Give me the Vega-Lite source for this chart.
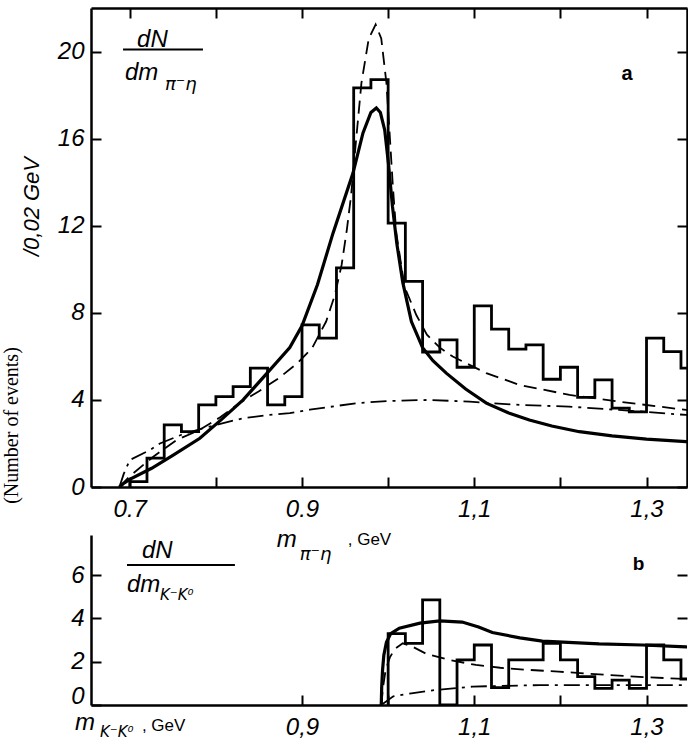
{
  "$schema": "https://vega.github.io/schema/vega-lite/v6.json",
  "background": "white",
  "padding": {"left": 0, "top": 7, "right": 0, "bottom": 0},
  "autosize": {"type": "pad"},
  "bounds": "flush",
  "spacing": 48,
  "config": {
    "view": {"stroke": null},
    "axis": {
      "grid": false,
      "domainColor": "black",
      "domainWidth": 2.5,
      "tickColor": "black",
      "tickWidth": 2,
      "tickSize": -10,
      "labelColor": "black",
      "labelFont": "Liberation Sans",
      "labelFontStyle": "italic",
      "labelFontSize": 24,
      "labelFlush": false,
      "labelOverlap": false,
      "titleColor": "black",
      "titleFont": "Liberation Sans",
      "titleFontWeight": "normal"
    },
    "text": {"color": "black", "font": "Liberation Sans"}
  },
  "datasets": {
    "histA": [
      {"i": 0, "m": 0.70, "n": 0},
      {"i": 1, "m": 0.70, "n": 0.25},
      {"i": 2, "m": 0.72, "n": 1.33},
      {"i": 3, "m": 0.74, "n": 2.85},
      {"i": 4, "m": 0.76, "n": 2.54},
      {"i": 5, "m": 0.78, "n": 3.77},
      {"i": 6, "m": 0.80, "n": 4.15},
      {"i": 7, "m": 0.82, "n": 4.61},
      {"i": 8, "m": 0.84, "n": 5.46},
      {"i": 9, "m": 0.86, "n": 3.77},
      {"i": 10, "m": 0.88, "n": 4.15},
      {"i": 11, "m": 0.90, "n": 7.45},
      {"i": 12, "m": 0.92, "n": 6.84},
      {"i": 13, "m": 0.94, "n": 10.06},
      {"i": 14, "m": 0.96, "n": 18.33},
      {"i": 15, "m": 0.98, "n": 18.71},
      {"i": 16, "m": 1.00, "n": 12.12},
      {"i": 17, "m": 1.02, "n": 9.44},
      {"i": 18, "m": 1.04, "n": 6.2},
      {"i": 19, "m": 1.06, "n": 6.76},
      {"i": 20, "m": 1.08, "n": 5.5},
      {"i": 21, "m": 1.10, "n": 8.32},
      {"i": 22, "m": 1.12, "n": 7.25},
      {"i": 23, "m": 1.14, "n": 6.33},
      {"i": 24, "m": 1.16, "n": 6.53},
      {"i": 25, "m": 1.18, "n": 4.95},
      {"i": 26, "m": 1.20, "n": 5.5},
      {"i": 27, "m": 1.22, "n": 4.12},
      {"i": 28, "m": 1.24, "n": 4.92},
      {"i": 29, "m": 1.26, "n": 3.62},
      {"i": 30, "m": 1.28, "n": 3.45},
      {"i": 31, "m": 1.30, "n": 6.84},
      {"i": 32, "m": 1.32, "n": 6.22},
      {"i": 33, "m": 1.34, "n": 5.46},
      {"i": 34, "m": 1.36, "n": 5.46}
    ],
    "solidA": [
      {"m": 0.688, "n": 0}, {"m": 0.6924, "n": 0.15}, {"m": 0.70, "n": 0.35},
      {"m": 0.7254, "n": 0.86}, {"m": 0.75, "n": 1.45}, {"m": 0.7814, "n": 2.24},
      {"m": 0.805, "n": 3.05}, {"m": 0.8316, "n": 4.0}, {"m": 0.861, "n": 5.3},
      {"m": 0.8858, "n": 6.4}, {"m": 0.90, "n": 7.4}, {"m": 0.918, "n": 9.3},
      {"m": 0.936, "n": 11.66}, {"m": 0.9592, "n": 14.42}, {"m": 0.9708, "n": 16.26},
      {"m": 0.98, "n": 17.2}, {"m": 0.9863, "n": 17.41}, {"m": 0.991, "n": 17.2},
      {"m": 0.996, "n": 16.4}, {"m": 1.0005, "n": 14.8}, {"m": 1.005, "n": 12.9},
      {"m": 1.01, "n": 11.2}, {"m": 1.017, "n": 9.4}, {"m": 1.027, "n": 7.6},
      {"m": 1.04, "n": 6.4}, {"m": 1.052, "n": 5.8}, {"m": 1.0675, "n": 5.23},
      {"m": 1.09, "n": 4.5}, {"m": 1.114, "n": 3.85}, {"m": 1.14, "n": 3.4},
      {"m": 1.164, "n": 3.08}, {"m": 1.19, "n": 2.8}, {"m": 1.222, "n": 2.54},
      {"m": 1.26, "n": 2.35}, {"m": 1.30, "n": 2.2}, {"m": 1.346, "n": 2.08},
      {"m": 1.36, "n": 2.05}
    ],
    "dashA": [
      {"m": 0.688, "n": 0}, {"m": 0.70, "n": 0.5}, {"m": 0.7273, "n": 1.39},
      {"m": 0.754, "n": 2.15}, {"m": 0.781, "n": 2.62}, {"m": 0.805, "n": 3.2},
      {"m": 0.827, "n": 3.85}, {"m": 0.85, "n": 4.4}, {"m": 0.873, "n": 5.0},
      {"m": 0.895, "n": 5.7}, {"m": 0.912, "n": 6.4}, {"m": 0.928, "n": 7.6},
      {"m": 0.938, "n": 8.8}, {"m": 0.946, "n": 10.2}, {"m": 0.952, "n": 11.8},
      {"m": 0.957, "n": 13.4}, {"m": 0.962, "n": 15.6}, {"m": 0.969, "n": 18.56},
      {"m": 0.9775, "n": 20.6}, {"m": 0.9855, "n": 21.24}, {"m": 0.992, "n": 20.6},
      {"m": 0.998, "n": 18.56}, {"m": 1.0017, "n": 16.26}, {"m": 1.0055, "n": 13.8},
      {"m": 1.0095, "n": 11.66}, {"m": 1.019, "n": 9.2}, {"m": 1.0327, "n": 7.9},
      {"m": 1.045, "n": 7.0}, {"m": 1.06, "n": 6.4}, {"m": 1.075, "n": 5.99},
      {"m": 1.114, "n": 5.23}, {"m": 1.1525, "n": 4.69}, {"m": 1.2105, "n": 4.23},
      {"m": 1.2685, "n": 3.92}, {"m": 1.346, "n": 3.54}, {"m": 1.36, "n": 3.48}
    ],
    "dotA": [
      {"m": 0.688, "n": 0}, {"m": 0.693, "n": 0.6}, {"m": 0.70, "n": 1.24},
      {"m": 0.7235, "n": 1.7}, {"m": 0.735, "n": 2.0}, {"m": 0.76, "n": 2.4},
      {"m": 0.785, "n": 2.7}, {"m": 0.8316, "n": 3.16}, {"m": 0.8625, "n": 3.31},
      {"m": 0.8858, "n": 3.39}, {"m": 0.909, "n": 3.55}, {"m": 0.963, "n": 3.85},
      {"m": 1.0, "n": 3.95}, {"m": 1.048, "n": 4.0}, {"m": 1.0945, "n": 3.92},
      {"m": 1.1525, "n": 3.77}, {"m": 1.21, "n": 3.69}, {"m": 1.268, "n": 3.54},
      {"m": 1.346, "n": 3.31}, {"m": 1.36, "n": 3.28}
    ],
    "textA": [
      {"g": "big", "t": "dN", "m": 0.7085, "n": 20.23},
      {"g": "big", "t": "dm", "m": 0.6945, "n": 18.71},
      {"g": "sub", "t": "π⁻η", "m": 0.7408, "n": 18.25},
      {"g": "tag", "t": "a", "m": 1.2773, "n": 18.71}
    ],
    "ruleA": [{"m": 0.6922, "m2": 0.785, "n": 20.09}],
    "histB": [
      {"i": 0, "m": 1.00, "n": 0},
      {"i": 1, "m": 1.00, "n": 3.3},
      {"i": 2, "m": 1.02, "n": 2.85},
      {"i": 3, "m": 1.04, "n": 4.85},
      {"i": 4, "m": 1.06, "n": 0},
      {"i": 5, "m": 1.08, "n": 2.08},
      {"i": 6, "m": 1.10, "n": 2.77},
      {"i": 7, "m": 1.12, "n": 0.8},
      {"i": 8, "m": 1.14, "n": 2.08},
      {"i": 9, "m": 1.16, "n": 2.08},
      {"i": 10, "m": 1.18, "n": 2.85},
      {"i": 11, "m": 1.20, "n": 2.08},
      {"i": 12, "m": 1.22, "n": 1.31},
      {"i": 13, "m": 1.24, "n": 0.77},
      {"i": 14, "m": 1.26, "n": 1.15},
      {"i": 15, "m": 1.28, "n": 0.77},
      {"i": 16, "m": 1.30, "n": 2.77},
      {"i": 17, "m": 1.32, "n": 2.08},
      {"i": 18, "m": 1.34, "n": 1.2},
      {"i": 19, "m": 1.36, "n": 1.2}
    ],
    "solidB": [
      {"m": 0.992, "n": 0}, {"m": 0.9925, "n": 0.8}, {"m": 0.9935, "n": 1.6},
      {"m": 0.995, "n": 2.3}, {"m": 0.998, "n": 2.9}, {"m": 1.003, "n": 3.3},
      {"m": 1.013, "n": 3.55}, {"m": 1.037, "n": 3.78}, {"m": 1.06, "n": 3.88},
      {"m": 1.086, "n": 3.83}, {"m": 1.105, "n": 3.6}, {"m": 1.121, "n": 3.35},
      {"m": 1.153, "n": 3.1}, {"m": 1.179, "n": 2.95}, {"m": 1.245, "n": 2.82},
      {"m": 1.295, "n": 2.77}, {"m": 1.346, "n": 2.68}, {"m": 1.36, "n": 2.66}
    ],
    "dashB": [
      {"m": 0.992, "n": 0}, {"m": 0.994, "n": 0.8}, {"m": 0.997, "n": 1.6},
      {"m": 1.002, "n": 2.2}, {"m": 1.008, "n": 2.6}, {"m": 1.017, "n": 2.85},
      {"m": 1.028, "n": 2.7}, {"m": 1.045, "n": 2.35}, {"m": 1.06, "n": 2.2},
      {"m": 1.071, "n": 2.08}, {"m": 1.102, "n": 1.85}, {"m": 1.13, "n": 1.72},
      {"m": 1.16, "n": 1.63}, {"m": 1.198, "n": 1.54}, {"m": 1.257, "n": 1.38},
      {"m": 1.30, "n": 1.28}, {"m": 1.347, "n": 1.2}, {"m": 1.36, "n": 1.18}
    ],
    "dotB": [
      {"m": 0.992, "n": 0}, {"m": 1.006, "n": 0.4}, {"m": 1.027, "n": 0.54},
      {"m": 1.054, "n": 0.69}, {"m": 1.098, "n": 0.85}, {"m": 1.176, "n": 0.92},
      {"m": 1.253, "n": 0.92}, {"m": 1.346, "n": 0.92}, {"m": 1.36, "n": 0.92}
    ],
    "textB": [
      {"g": "big", "t": "dN", "m": 0.7141, "n": 6.78},
      {"g": "big", "t": "dm", "m": 0.6968, "n": 5.21},
      {"g": "subk", "t": "K⁻K⁰", "m": 0.7351, "n": 4.85},
      {"g": "tag", "t": "b", "m": 1.2906, "n": 6.23},
      {"g": "big", "t": "m", "m": 0.8707, "n": 7.29},
      {"g": "sub", "t": "π⁻η", "m": 0.8974, "n": 6.69},
      {"g": "plain", "t": ", GeV", "m": 0.9531, "n": 7.38},
      {"g": "big", "t": "m", "m": 0.6364, "n": -1.15},
      {"g": "subk", "t": "K⁻K⁰", "m": 0.6654, "n": -1.5},
      {"g": "plain", "t": ", GeV", "m": 0.7141, "n": -1.2}
    ],
    "ruleB": [{"m": 0.6968, "m2": 0.8221, "n": 6.46}]
  },
  "vconcat": [
    {
      "width": 596,
      "height": 479,
      "layer": [
        {
          "data": {"name": "histA"},
          "mark": {"type": "line", "interpolate": "step-after", "strokeWidth": 2.8, "color": "black", "clip": true, "strokeJoin": "miter"},
          "encoding": {
            "x": {"field": "m", "type": "quantitative", "scale": {"domain": [0.655, 1.347], "nice": false, "zero": false},
              "axis": {"orient": "bottom", "values": [0.7, 0.8, 0.9, 1.0, 1.1, 1.2, 1.3], "title": null, "labelPadding": 20,
                "labelExpr": "round(datum.value*10) % 2 == 1 ? (datum.value < 1 ? format(datum.value, '.1f') : replace(format(datum.value, '.1f'), '.', ',')) : ''"}},
            "y": {"field": "n", "type": "quantitative", "scale": {"domain": [0, 22], "nice": false, "zero": false},
              "axis": {"orient": "left", "values": [0, 4, 8, 12, 16, 20], "labelPadding": 17,
                "title": "/0,02 GeV", "titleX": -60, "titleY": 198, "titleAngle": 270, "titleBaseline": "middle", "titleAlign": "center",
                "titleFontSize": 22, "titleFontStyle": "italic"}},
            "order": {"field": "i", "type": "quantitative"}
          }
        },
        {
          "data": {"name": "solidA"},
          "mark": {"type": "line", "strokeWidth": 3.2, "color": "black", "clip": true},
          "encoding": {
            "x": {"field": "m", "type": "quantitative", "scale": {"domain": [0.655, 1.347], "nice": false, "zero": false},
              "axis": {"orient": "top", "values": [0.7, 0.8, 0.9, 1.0, 1.1, 1.2, 1.3], "labels": false, "title": null}},
            "y": {"field": "n", "type": "quantitative", "scale": {"domain": [0, 22], "nice": false, "zero": false},
              "axis": {"orient": "right", "values": [0, 4, 8, 12, 16, 20], "labels": false, "title": null}}
          }
        },
        {
          "data": {"name": "dashA"},
          "mark": {"type": "line", "strokeWidth": 1.8, "strokeDash": [13, 7], "color": "black", "clip": true},
          "encoding": {
            "x": {"field": "m", "type": "quantitative", "scale": {"domain": [0.655, 1.347], "nice": false, "zero": false}, "axis": null},
            "y": {"field": "n", "type": "quantitative", "scale": {"domain": [0, 22], "nice": false, "zero": false}, "axis": null}
          }
        },
        {
          "data": {"name": "dotA"},
          "mark": {"type": "line", "strokeWidth": 1.8, "strokeDash": [16, 6, 3, 6], "color": "black", "clip": true},
          "encoding": {
            "x": {"field": "m", "type": "quantitative", "scale": {"domain": [0.655, 1.347], "nice": false, "zero": false}, "axis": null},
            "y": {"field": "n", "type": "quantitative", "scale": {"domain": [0, 22], "nice": false, "zero": false}, "axis": null}
          }
        },
        {
          "data": {"name": "ruleA"},
          "mark": {"type": "rule", "strokeWidth": 2, "color": "black"},
          "encoding": {
            "x": {"field": "m", "type": "quantitative", "axis": null},
            "x2": {"field": "m2"},
            "y": {"field": "n", "type": "quantitative", "axis": null}
          }
        },
        {
          "data": {"name": "textA"},
          "transform": [{"filter": "datum.g == 'big'"}],
          "mark": {"type": "text", "fontSize": 24, "fontStyle": "italic", "align": "left", "baseline": "alphabetic"},
          "encoding": {
            "x": {"field": "m", "type": "quantitative", "axis": null},
            "y": {"field": "n", "type": "quantitative", "axis": null},
            "text": {"field": "t"}
          }
        },
        {
          "data": {"name": "textA"},
          "transform": [{"filter": "datum.g == 'sub'"}],
          "mark": {"type": "text", "font": "DejaVu Sans", "fontSize": 18, "fontStyle": "italic", "align": "left", "baseline": "alphabetic"},
          "encoding": {
            "x": {"field": "m", "type": "quantitative", "axis": null},
            "y": {"field": "n", "type": "quantitative", "axis": null},
            "text": {"field": "t"}
          }
        },
        {
          "data": {"name": "textA"},
          "transform": [{"filter": "datum.g == 'tag'"}],
          "mark": {"type": "text", "fontSize": 20, "fontWeight": "bold", "align": "center", "baseline": "alphabetic"},
          "encoding": {
            "x": {"field": "m", "type": "quantitative", "axis": null},
            "y": {"field": "n", "type": "quantitative", "axis": null},
            "text": {"field": "t"}
          }
        }
      ],
      "resolve": {"axis": {"x": "independent", "y": "independent"}}
    },
    {
      "width": 596,
      "height": 170,
      "layer": [
        {
          "data": {"name": "histB"},
          "mark": {"type": "line", "interpolate": "step-after", "strokeWidth": 2.8, "color": "black", "clip": true, "strokeJoin": "miter"},
          "encoding": {
            "x": {"field": "m", "type": "quantitative", "scale": {"domain": [0.655, 1.347], "nice": false, "zero": false},
              "axis": {"orient": "bottom", "values": [0.9, 1.0, 1.1, 1.2, 1.3], "title": null, "labelPadding": 20,
                "labelExpr": "round(datum.value*10) % 2 == 1 ? replace(format(datum.value, '.1f'), '.', ',') : ''"}},
            "y": {"field": "n", "type": "quantitative", "scale": {"domain": [0, 7.85], "nice": false, "zero": false},
              "axis": {"orient": "left", "values": [0, 2, 4, 6], "labelPadding": 17,
                "labelOffset": {"condition": {"test": "datum.value == 0", "value": -9}, "value": 0},
                "title": "(Number of events)", "titleX": -80, "titleY": -110, "titleAngle": 270, "titleBaseline": "middle", "titleAlign": "center",
                "titleFont": "Liberation Serif", "titleFontSize": 20, "titleFontStyle": "normal"}},
            "order": {"field": "i", "type": "quantitative"}
          }
        },
        {
          "data": {"name": "solidB"},
          "mark": {"type": "line", "strokeWidth": 3.2, "color": "black", "clip": true},
          "encoding": {
            "x": {"field": "m", "type": "quantitative", "scale": {"domain": [0.655, 1.347], "nice": false, "zero": false}, "axis": null},
            "y": {"field": "n", "type": "quantitative", "scale": {"domain": [0, 7.85], "nice": false, "zero": false},
              "axis": {"orient": "right", "values": [4, 6], "labels": false, "domain": false, "title": null}}
          }
        },
        {
          "data": {"name": "dashB"},
          "mark": {"type": "line", "strokeWidth": 1.8, "strokeDash": [13, 7], "color": "black", "clip": true},
          "encoding": {
            "x": {"field": "m", "type": "quantitative", "scale": {"domain": [0.655, 1.347], "nice": false, "zero": false}, "axis": null},
            "y": {"field": "n", "type": "quantitative", "scale": {"domain": [0, 7.85], "nice": false, "zero": false}, "axis": null}
          }
        },
        {
          "data": {"name": "dotB"},
          "mark": {"type": "line", "strokeWidth": 1.8, "strokeDash": [16, 6, 3, 6], "color": "black", "clip": true},
          "encoding": {
            "x": {"field": "m", "type": "quantitative", "scale": {"domain": [0.655, 1.347], "nice": false, "zero": false}, "axis": null},
            "y": {"field": "n", "type": "quantitative", "scale": {"domain": [0, 7.85], "nice": false, "zero": false}, "axis": null}
          }
        },
        {
          "data": {"name": "ruleB"},
          "mark": {"type": "rule", "strokeWidth": 2, "color": "black"},
          "encoding": {
            "x": {"field": "m", "type": "quantitative", "axis": null},
            "x2": {"field": "m2"},
            "y": {"field": "n", "type": "quantitative", "axis": null}
          }
        },
        {
          "data": {"name": "textB"},
          "transform": [{"filter": "datum.g == 'big'"}],
          "mark": {"type": "text", "fontSize": 24, "fontStyle": "italic", "align": "left", "baseline": "alphabetic"},
          "encoding": {
            "x": {"field": "m", "type": "quantitative", "axis": null},
            "y": {"field": "n", "type": "quantitative", "axis": null},
            "text": {"field": "t"}
          }
        },
        {
          "data": {"name": "textB"},
          "transform": [{"filter": "datum.g == 'sub'"}],
          "mark": {"type": "text", "font": "DejaVu Sans", "fontSize": 18, "fontStyle": "italic", "align": "left", "baseline": "alphabetic"},
          "encoding": {
            "x": {"field": "m", "type": "quantitative", "axis": null},
            "y": {"field": "n", "type": "quantitative", "axis": null},
            "text": {"field": "t"}
          }
        },
        {
          "data": {"name": "textB"},
          "transform": [{"filter": "datum.g == 'subk'"}],
          "mark": {"type": "text", "font": "DejaVu Sans", "fontSize": 15, "fontStyle": "italic", "align": "left", "baseline": "alphabetic"},
          "encoding": {
            "x": {"field": "m", "type": "quantitative", "axis": null},
            "y": {"field": "n", "type": "quantitative", "axis": null},
            "text": {"field": "t"}
          }
        },
        {
          "data": {"name": "textB"},
          "transform": [{"filter": "datum.g == 'plain'"}],
          "mark": {"type": "text", "fontSize": 17, "align": "left", "baseline": "alphabetic"},
          "encoding": {
            "x": {"field": "m", "type": "quantitative", "axis": null},
            "y": {"field": "n", "type": "quantitative", "axis": null},
            "text": {"field": "t"}
          }
        },
        {
          "data": {"name": "textB"},
          "transform": [{"filter": "datum.g == 'tag'"}],
          "mark": {"type": "text", "fontSize": 19, "fontWeight": "bold", "align": "center", "baseline": "alphabetic"},
          "encoding": {
            "x": {"field": "m", "type": "quantitative", "axis": null},
            "y": {"field": "n", "type": "quantitative", "axis": null},
            "text": {"field": "t"}
          }
        }
      ],
      "resolve": {"axis": {"x": "independent", "y": "independent"}}
    }
  ]
}
